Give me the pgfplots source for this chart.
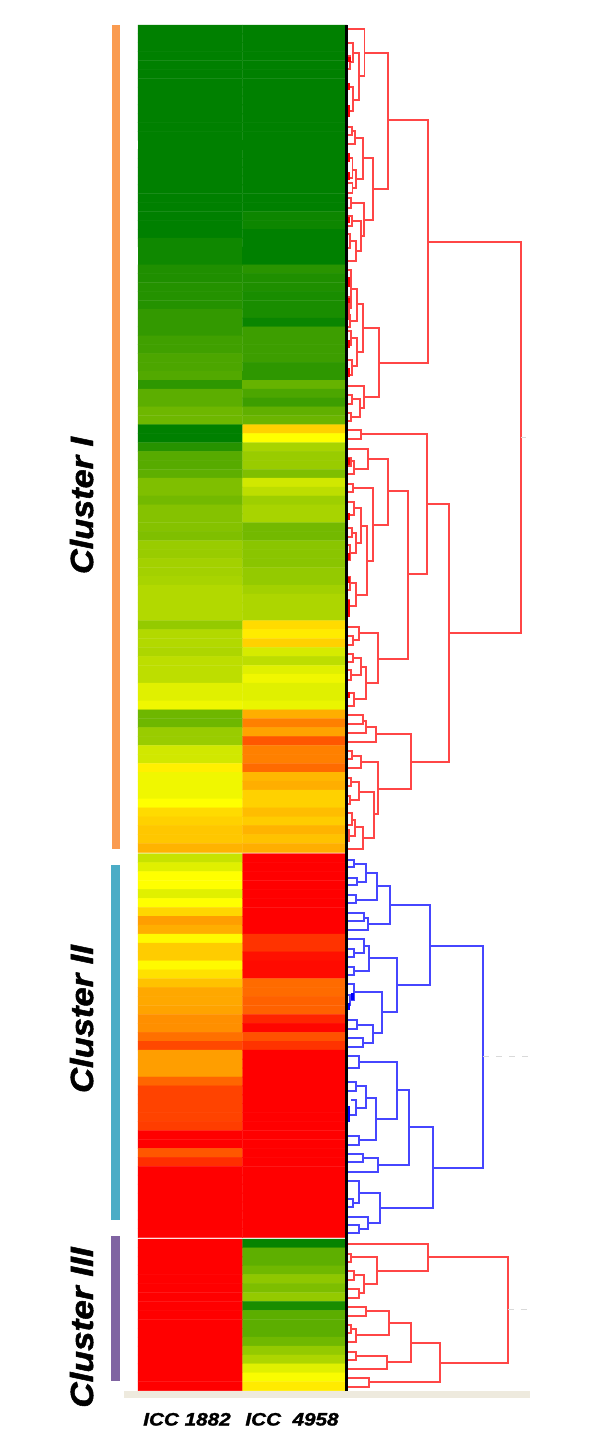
\documentclass[border=0pt]{standalone}
\usepackage{fontspec}
\setmainfont{Liberation Sans}
\newfontfamily\heavy[BoldItalicFeatures={FakeBold=1.5}]{Liberation Sans}
\usepackage{graphicx}
\usepackage{pgfplots}
\pgfplotsset{compat=1.18}
\definecolor{dred}{RGB}{255,70,70}
\definecolor{dblue}{RGB}{70,70,255}
\begin{document}
\begin{tikzpicture}
\useasboundingbox (0,0) rectangle (600pt,1448pt);
\begin{axis}[
 at={(0,0)},anchor=south west,scale only axis,width=600pt,height=1448pt,
 xmin=0,xmax=600,ymin=0,ymax=1448,y dir=reverse,hide axis,clip=false,
 colormap={gyr}{rgb255=(0,128,0) rgb255=(255,255,0) rgb255=(255,0,0)},
 point meta min=0,point meta max=100,unbounded coords=jump]
% section A
\addplot[matrix plot*,shader=faceted,faceted color=mapped color,line width=0.4pt,mesh/cols=2,point meta=explicit] table[row sep=\\,x expr=190.3+104.4*\thisrowno{0},y expr=25+8.88*(\thisrowno{1}+0.5),meta index=2] {
0 0 0\\1 0 0\\0 1 0\\1 1 0\\0 2 0\\1 2 0\\0 3 0\\1 3 0\\0 4 0\\1 4 0\\0 5 0\\1 5 0\\0 6 0\\1 6 0\\0 7 0\\1 7 0\\0 8 0\\1 8 0\\0 9 0\\1 9 0\\
0 10 0\\1 10 0\\0 11 0\\1 11 0\\0 12 0\\1 12 0\\0 13 0\\1 13 0\\0 14 0\\1 14 0\\0 15 0\\1 15 0\\0 16 0\\1 16 0\\0 17 0\\1 17 0\\0 18 0\\1 18 0\\0 19 0\\1 19 0\\
0 20 0\\1 20 0\\0 21 0\\1 21 2.5\\0 22 0\\1 22 2.5\\0 23 0\\1 23 0\\0 24 3\\1 24 0\\0 25 3\\1 25 0\\0 26 3\\1 26 0\\0 27 6\\1 27 8\\0 28 6\\1 28 6\\0 29 7\\1 29 6\\
0 30 7\\1 30 5\\0 31 7\\1 31 5\\0 32 10\\1 32 5\\0 33 10\\1 33 2\\0 34 10\\1 34 12\\0 35 12.5\\1 35 12\\0 36 12.5\\1 36 12\\0 37 15\\1 37 12\\0 38 15\\1 38 9\\0 39 16\\1 39 9\\
0 40 9\\1 40 20\\0 41 18\\1 41 15\\0 42 18\\1 42 12\\0 43 21.5\\1 43 19\\0 44 21.5\\1 44 21\\
};
% section B
\addplot[matrix plot*,shader=faceted,faceted color=mapped color,line width=0.4pt,mesh/cols=2,point meta=explicit] table[row sep=\\,x expr=190.3+104.4*\thisrowno{0},y expr=424.7+8.91*(\thisrowno{1}+0.5),meta index=2] {
0 0 0\\1 0 59\\0 1 0\\1 1 50\\0 2 7.5\\1 2 33\\0 3 17\\1 3 30\\0 4 17\\1 4 30\\0 5 18.5\\1 5 25\\0 6 25\\1 6 41\\0 7 25\\1 7 37\\0 8 22.5\\1 8 31\\0 9 26\\1 9 33\\
0 10 26\\1 10 33\\0 11 26\\1 11 22.5\\0 12 25\\1 12 22.5\\0 13 30\\1 13 27\\0 14 30\\1 14 27\\0 15 32\\1 15 27\\0 16 32\\1 16 29\\0 17 33\\1 17 29\\0 18 35\\1 18 32\\0 19 35\\1 19 34\\
0 20 35\\1 20 34\\0 21 35\\1 21 34\\0 22 29\\1 22 57\\0 23 35\\1 23 54\\0 24 35\\1 24 59\\0 25 34\\1 25 42\\0 26 37\\1 26 37\\0 27 37\\1 27 44\\0 28 37\\1 28 47\\0 29 44\\1 29 44\\
0 30 44\\1 30 44\\0 31 47\\1 31 46\\0 32 21.5\\1 32 66\\0 33 21.5\\1 33 75\\0 34 30\\1 34 68\\0 35 30\\1 35 83\\0 36 41\\1 36 75\\0 37 41\\1 37 75\\0 38 53\\1 38 79\\0 39 47\\1 39 64\\
0 40 47\\1 40 66\\0 41 47\\1 41 59\\0 42 50\\1 42 59\\0 43 57\\1 43 63\\0 44 59\\1 44 60\\0 45 61\\1 45 65\\0 46 61\\1 46 62\\0 47 65\\1 47 66\\
};
% section C
\addplot[matrix plot*,shader=faceted,faceted color=mapped color,line width=0.4pt,mesh/cols=2,point meta=explicit] table[row sep=\\,x expr=190.3+104.4*\thisrowno{0},y expr=853.7+8.93*(\thisrowno{1}+0.5),meta index=2] {
0 0 39\\1 0 100\\0 1 44\\1 1 100\\0 2 50\\1 2 100\\0 3 50\\1 3 100\\0 4 44\\1 4 100\\0 5 50\\1 5 100\\0 6 58\\1 6 100\\0 7 69\\1 7 100\\0 8 66\\1 8 100\\0 9 51\\1 9 90\\
0 10 60\\1 10 90\\0 11 60\\1 11 97\\0 12 51\\1 12 98\\0 13 56\\1 13 98\\0 14 62\\1 14 79\\0 15 67\\1 15 79\\0 16 67\\1 16 81\\0 17 68\\1 17 81\\0 18 72\\1 18 93\\0 19 72\\1 19 99\\
0 20 78\\1 20 84\\0 21 86\\1 21 90\\0 22 69\\1 22 100\\0 23 69\\1 23 100\\0 24 69\\1 24 100\\0 25 80\\1 25 100\\0 26 87\\1 26 100\\0 27 87\\1 27 100\\0 28 87\\1 28 100\\0 29 87\\1 29 100\\
0 30 88\\1 30 100\\0 31 100\\1 31 100\\0 32 100\\1 32 100\\0 33 83\\1 33 100\\0 34 91\\1 34 100\\0 35 100\\1 35 100\\0 36 100\\1 36 100\\0 37 100\\1 37 100\\0 38 100\\1 38 100\\0 39 100\\1 39 100\\
0 40 100\\1 40 100\\0 41 100\\1 41 100\\0 42 100\\1 42 100\\
};
% section D
\addplot[matrix plot*,shader=faceted,faceted color=mapped color,line width=0.4pt,mesh/cols=2,point meta=explicit] table[row sep=\\,x expr=190.3+104.4*\thisrowno{0},y expr=1239+8.92*(\thisrowno{1}+0.5),meta index=2] {
0 0 100\\1 0 1\\0 1 100\\1 1 18.5\\0 2 100\\1 2 18.5\\0 3 100\\1 3 22\\0 4 100\\1 4 28\\0 5 100\\1 5 24.5\\0 6 100\\1 6 29\\0 7 100\\1 7 5\\0 8 100\\1 8 18\\0 9 100\\1 9 18\\
0 10 100\\1 10 18\\0 11 100\\1 11 22\\0 12 100\\1 12 29\\0 13 100\\1 13 34\\0 14 100\\1 14 44\\0 15 100\\1 15 49\\0 16 100\\1 16 54\\
};
% side bars
\addplot[no marks,line width=8.3pt,color={rgb,255:red,250;green,155;blue,80}] coordinates {(116,25)(116,849)};
\addplot[no marks,line width=8.5pt,color={rgb,255:red,75;green,172;blue,198}] coordinates {(115.7,865)(115.7,1220)};
\addplot[no marks,line width=8.7pt,color={rgb,255:red,128;green,100;blue,162}] coordinates {(115.6,1236)(115.6,1381)};
% floor strip
\addplot[no marks,line width=7pt,color={rgb,255:red,238;green,234;blue,222}] coordinates {(124,1394.2)(530,1394.2)};
% red dendrogram, cluster I
\addplot[no marks,line width=1.8pt,color=dred] coordinates {
(347,28.7)(364.5,28.7)(364.5,75.7)(359.3,75.7)(nan,nan)
(352.7,52.7)(359.3,52.7)(359.3,100)(352.7,100)(nan,nan)
(347,42.7)(352.7,42.7)(352.7,62)(350,62)(nan,nan)
(347,56)(350,56)(350,69)(347,69)(nan,nan)
(349,87)(352.7,87)(352.7,110.7)(349,110.7)(nan,nan)
(364.5,52.7)(388.3,52.7)(388.3,189)(373.3,189)(nan,nan)
(362.7,158.3)(373.3,158.3)(373.3,220)(364,220)(nan,nan)
(354.7,137.7)(362.7,137.7)(362.7,179)(355.7,179)(nan,nan)
(352.3,131)(354.7,131)(354.7,144.3)(347,144.3)(nan,nan)
(347,126.7)(352.3,126.7)(352.3,135)(347,135)(nan,nan)
(352.5,170)(355.7,170)(355.7,188)(352.5,188)(nan,nan)
(349,158.3)(352.5,158.3)(352.5,178)(349,178)(nan,nan)
(347,183)(352.5,183)(352.5,193)(347,193)(nan,nan)
(350.7,203.3)(364,203.3)(364,236)(360.7,236)(nan,nan)
(347,198.3)(350.7,198.3)(350.7,207.7)(347,207.7)(nan,nan)
(352.3,221)(360.7,221)(360.7,250.7)(356,250.7)(nan,nan)
(347,216)(352.3,216)(352.3,226)(347,226)(nan,nan)
(350,241)(356,241)(356,260.7)(347,260.7)(nan,nan)
(347,234)(350,234)(350,248)(347,248)(nan,nan)
(362.7,328.3)(379.3,328.3)(379.3,396.7)(364.3,396.7)(nan,nan)
(357.3,304.3)(362.7,304.3)(362.7,352.3)(357.3,352.3)(nan,nan)
(351,289)(357.3,289)(357.3,321)(350,321)(nan,nan)
(347,270)(351,270)(351,308)(349,308)(nan,nan)
(347,297)(349,297)(349,319)(347,319)(nan,nan)
(347,315)(350,315)(350,327)(347,327)(nan,nan)
(351,338)(357.3,338)(357.3,365.7)(351.7,365.7)(nan,nan)
(347,331)(351,331)(351,345)(347,345)(nan,nan)
(347,360)(351.7,360)(351.7,375)(347,375)(nan,nan)
(347,385.7)(364.3,385.7)(364.3,407.7)(360,407.7)(nan,nan)
(352.3,399)(360,399)(360,416.7)(350.7,416.7)(nan,nan)
(347,395)(352.3,395)(352.3,404)(347,404)(nan,nan)
(347,413)(350.7,413)(350.7,421)(347,421)(nan,nan)
(388.3,120)(427.7,120)(427.7,362.7)(379.3,362.7)(nan,nan)
(427.7,241.7)(521,241.7)(521,632.7)(448.7,632.7)(nan,nan)
(347,430.3)(360.7,430.3)(360.7,439.3)(347,439.3)(nan,nan)
(360.7,434.3)(426.7,434.3)(426.7,574.3)(407.7,574.3)(nan,nan)
(426.7,504.3)(448.7,504.3)(448.7,762.3)(410.7,762.3)(nan,nan)
(388.3,491.3)(407.7,491.3)(407.7,658.7)(378,658.7)(nan,nan)
(368,458.7)(388.3,458.7)(388.3,525)(372.7,525)(nan,nan)
(347,448.7)(368,448.7)(368,468.7)(354.3,468.7)(nan,nan)
(351,461)(354.3,461)(354.3,474.3)(347,474.3)(nan,nan)
(347,458)(351,458)(351,466)(347,466)(nan,nan)
(352.7,487.7)(372.7,487.7)(372.7,560.7)(367.3,560.7)(nan,nan)
(347,483.7)(352.7,483.7)(352.7,491.7)(347,491.7)(nan,nan)
(361,526)(367.3,526)(367.3,595)(355.7,595)(nan,nan)
(354.3,508.3)(361,508.3)(361,542.7)(355.7,542.7)(nan,nan)
(347,501.7)(354.3,501.7)(354.3,515)(350,515)(nan,nan)
(352,532.7)(355.7,532.7)(355.7,553.3)(350,553.3)(nan,nan)
(347,528)(352,528)(352,537)(347,537)(nan,nan)
(347,545)(350,545)(350,560)(347,560)(nan,nan)
(350,583.3)(355.7,583.3)(355.7,606)(349,606)(nan,nan)
(347,577)(350,577)(350,590)(347,590)(nan,nan)
(347,600)(349,600)(349,612)(347,612)(nan,nan)
(359.3,633.3)(378,633.3)(378,682.7)(366,682.7)(nan,nan)
(347,626.7)(359.3,626.7)(359.3,640)(353.3,640)(nan,nan)
(347,636)(353.3,636)(353.3,645)(347,645)(nan,nan)
(361,666.7)(366,666.7)(366,699.3)(354.3,699.3)(nan,nan)
(353.3,657.7)(361,657.7)(361,675)(351,675)(nan,nan)
(347,654)(353.3,654)(353.3,662)(347,662)(nan,nan)
(347,670)(351,670)(351,680)(347,680)(nan,nan)
(349,693.3)(354.3,693.3)(354.3,706)(347,706)(nan,nan)
(376,734)(410.7,734)(410.7,789)(378.3,789)(nan,nan)
(366,726.7)(376,726.7)(376,741.7)(347,741.7)(nan,nan)
(362.7,721)(366,721)(366,732.7)(347,732.7)(nan,nan)
(347,715)(362.7,715)(362.7,724)(347,724)(nan,nan)
(360.7,762.3)(378.3,762.3)(378.3,814.3)(374.3,814.3)(nan,nan)
(352.3,755.7)(360.7,755.7)(360.7,768.3)(347,768.3)(nan,nan)
(347,751)(352.3,751)(352.3,759)(347,759)(nan,nan)
(359.3,791.7)(374.3,791.7)(374.3,838.3)(362.7,838.3)(nan,nan)
(351,782.3)(359.3,782.3)(359.3,800)(350,800)(nan,nan)
(347,778)(351,778)(351,786)(347,786)(nan,nan)
(347,796)(350,796)(350,804)(347,804)(nan,nan)
(355,827.3)(362.7,827.3)(362.7,849)(347,849)(nan,nan)
(352,820)(355,820)(355,835.7)(349,835.7)(nan,nan)
(347,813)(352,813)(352,825)(347,825)(nan,nan)
(347,830)(349,830)(349,841)(347,841)(nan,nan)
};
% red dendrogram, cluster III
\addplot[no marks,line width=1.8pt,color=dred] coordinates {
(347,1244)(427.7,1244)(427.7,1271)(376.7,1271)(nan,nan)
(350.7,1257.3)(376.7,1257.3)(376.7,1284.3)(364.3,1284.3)(nan,nan)
(347,1254)(350.7,1254)(350.7,1261.7)(347,1261.7)(nan,nan)
(354,1275)(364.3,1275)(364.3,1293.3)(359.3,1293.3)(nan,nan)
(347,1271)(354,1271)(354,1280)(347,1280)(nan,nan)
(347,1289)(359.3,1289)(359.3,1297.7)(347,1297.7)(nan,nan)
(427.7,1257.3)(507.7,1257.3)(507.7,1362.7)(440,1362.7)(nan,nan)
(410.7,1342.7)(440,1342.7)(440,1381.7)(369.3,1381.7)(nan,nan)
(388.7,1323.3)(410.7,1323.3)(410.7,1361.7)(386.7,1361.7)(nan,nan)
(366,1311)(388.7,1311)(388.7,1335)(356,1335)(nan,nan)
(347,1306.7)(366,1306.7)(366,1315.7)(347,1315.7)(nan,nan)
(350.7,1329)(356,1329)(356,1342.3)(347,1342.3)(nan,nan)
(347,1325)(350.7,1325)(350.7,1333)(347,1333)(nan,nan)
(355.7,1355.7)(386.7,1355.7)(386.7,1369)(347,1369)(nan,nan)
(347,1351.7)(355.7,1351.7)(355.7,1360)(347,1360)(nan,nan)
(347,1378.3)(369.3,1378.3)(369.3,1387.3)(347,1387.3)(nan,nan)
};
% short thick red stubs
\addplot[no marks,line width=2.6pt,color=red] coordinates {
(349.5,57)(349.5,62)(nan,nan)(348.5,83)(348.5,90)(nan,nan)(348.5,105)(348.5,117)(nan,nan)
(348.5,153)(348.5,162)(nan,nan)(348.5,172)(348.5,180)(nan,nan)(348.5,217)(348.5,223)(nan,nan)
(349,277)(349,287)(nan,nan)(348.5,298)(348.5,303)(nan,nan)(348.5,340)(348.5,348)(nan,nan)(348.5,368)(348.5,377)(nan,nan)
(348.5,458)(348.5,465)(nan,nan)(348.5,513)(348.5,520)(nan,nan)(348.5,553)(348.5,560)(nan,nan)(348.5,577)(348.5,583)(nan,nan)(348.5,600)(348.5,617)(nan,nan)(348.5,692)(348.5,698)
};
% blue dendrogram, cluster II
\addplot[no marks,line width=1.8pt,color=dblue] coordinates {
(347,860)(354,860)(354,867.3)(347,867.3)(nan,nan)
(354,864)(366,864)(366,882.3)(357.3,882.3)(nan,nan)
(347,878)(357.3,878)(357.3,885.3)(347,885.3)(nan,nan)
(366,873.3)(376.7,873.3)(376.7,900)(355.7,900)(nan,nan)
(347,895)(355.7,895)(355.7,903.3)(347,903.3)(nan,nan)
(376.7,885.7)(390,885.7)(390,924)(368,924)(nan,nan)
(347,912.7)(364,912.7)(364,920.7)(347,920.7)(nan,nan)
(364,918.3)(368,918.3)(368,930)(347,930)(nan,nan)
(390,905)(429.7,905)(429.7,985)(397.3,985)(nan,nan)
(429.7,945.7)(483.3,945.7)(483.3,1167.7)(433.3,1167.7)(nan,nan)
(369.3,958.3)(397.3,958.3)(397.3,1012.3)(381.7,1012.3)(nan,nan)
(364.3,946)(369.3,946)(369.3,971)(354,971)(nan,nan)
(347,939.3)(364.3,939.3)(364.3,952.7)(354,952.7)(nan,nan)
(347,949)(354,949)(354,957)(347,957)(nan,nan)
(347,966.7)(354,966.7)(354,975)(347,975)(nan,nan)
(354,991.7)(381.7,991.7)(381.7,1033.3)(373.3,1033.3)(nan,nan)
(347,984.3)(354,984.3)(354,1000)(350,1000)(nan,nan)
(347,995)(350,995)(350,1005)(347,1005)(nan,nan)
(357.3,1025)(373.3,1025)(373.3,1042.7)(362.7,1042.7)(nan,nan)
(347,1020)(357.3,1020)(357.3,1029)(347,1029)(nan,nan)
(347,1037.7)(362.7,1037.7)(362.7,1046.7)(347,1046.7)(nan,nan)
(409,1126.7)(433.3,1126.7)(433.3,1208.3)(380,1208.3)(nan,nan)
(397.3,1090)(409,1090)(409,1165)(378.3,1165)(nan,nan)
(359.3,1061.7)(397.3,1061.7)(397.3,1119)(376,1119)(nan,nan)
(347,1056)(359.3,1056)(359.3,1068.3)(347,1068.3)(nan,nan)
(366,1097.7)(376,1097.7)(376,1140)(359.3,1140)(nan,nan)
(355.7,1086)(366,1086)(366,1107.7)(355.7,1107.7)(nan,nan)
(347,1082.3)(355.7,1082.3)(355.7,1090.7)(347,1090.7)(nan,nan)
(351,1100)(355.7,1100)(355.7,1115)(349,1115)(nan,nan)
(347,1136)(359.3,1136)(359.3,1145)(347,1145)(nan,nan)
(362.7,1157.7)(378.3,1157.7)(378.3,1171.7)(347,1171.7)(nan,nan)
(347,1154)(362.7,1154)(362.7,1162)(347,1162)(nan,nan)
(359.3,1193.3)(380,1193.3)(380,1222.7)(368,1222.7)(nan,nan)
(347,1181)(359.3,1181)(359.3,1203)(352.7,1203)(nan,nan)
(347,1199)(352.7,1199)(352.7,1207)(347,1207)(nan,nan)
(347,1216.7)(368,1216.7)(368,1229)(359.3,1229)(nan,nan)
(347,1225)(359.3,1225)(359.3,1233)(347,1233)(nan,nan)
};
\addplot[no marks,line width=2.6pt,color=blue] coordinates {
(352.7,993)(352.7,1000)(nan,nan)(348.5,1003)(348.5,1010)(nan,nan)(348.5,1106)(348.5,1122)
};
% grey dashes
\addplot[no marks,line width=1pt,color=black!15,dash pattern=on 6pt off 7pt] coordinates {(483.3,1056.7)(530,1056.7)(nan,nan)(507.7,1309.3)(530,1309.3)};
\addplot[no marks,line width=1pt,color=black!15] coordinates {(521,437.5)(526,437.5)};
% black spine
\addplot[no marks,line width=3pt,color=black] coordinates {(346.6,25)(346.6,1390.7)};
% labels
\node[rotate=90,anchor=base,inner sep=0pt,font=\heavy\fontsize{32}{36}\selectfont\bfseries\itshape] at (axis cs:93,505.5) {\scalebox{1.07}[1]{Cluster I}};
\node[rotate=90,anchor=base,inner sep=0pt,font=\heavy\fontsize{32}{36}\selectfont\bfseries\itshape] at (axis cs:93,1019) {\scalebox{1.08}[1]{Cluster II}};
\node[rotate=90,anchor=base,inner sep=0pt,font=\heavy\fontsize{32}{36}\selectfont\bfseries\itshape] at (axis cs:93,1327.5) {\scalebox{1.1}[1]{Cluster III}};
\node[anchor=base,inner sep=0pt,font=\heavy\fontsize{18}{20}\selectfont\bfseries\itshape] at (axis cs:187,1425.5) {\scalebox{1.15}[1]{ICC 1882}};
\node[anchor=base,inner sep=0pt,font=\heavy\fontsize{18}{20}\selectfont\bfseries\itshape] at (axis cs:292,1425.5) {\scalebox{1.15}[1]{ICC\ \ 4958}};
\end{axis}
\end{tikzpicture}
\end{document}
